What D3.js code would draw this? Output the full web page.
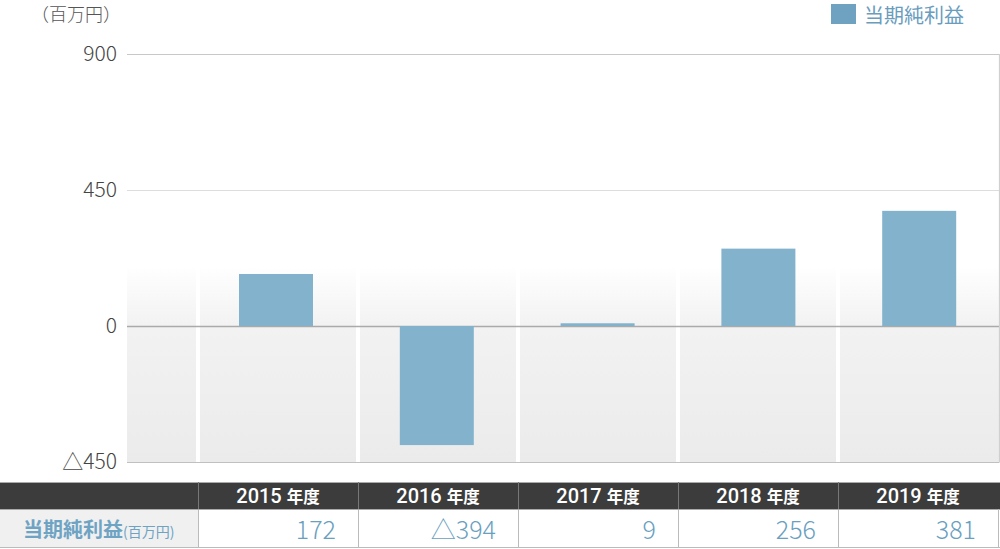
<!DOCTYPE html>
<html><head><meta charset="utf-8">
<script src="https://cdn.jsdelivr.net/npm/d3@7"></script>
<style>
html,body{margin:0;padding:0;background:#fff;}
svg{display:block;}
text{font-family:"Noto Sans CJK JP","Noto Sans",sans-serif;}
</style></head>
<body>
<svg id="c" width="1000" height="549"></svg>
<script>
const categories = ["2015", "2016", "2017", "2018", "2019"];
const values = [172, -394, 9, 256, 381];
const displayValues = ["172", "△394", "9", "256", "381"];
const yTicks = [900, 450, 0, -450];
const yTickLabels = ["900", "450", "0", "△450"];
const seriesName = "当期純利益";
const unitLabel = "（百万円）";
const yearSuffix = "年度";

const svg = d3.select("#c");
const plotLeft = 127, plotRight = 999;
const x = d3.scaleBand().domain(categories).range([198, 998]).padding(0);
const xBar = d3.scaleBand().domain(categories).range([198, 1002]).padding(0);
const y = d3.scaleLinear().domain([-450, 900]).range([462, 54]);
const barColor = "#82b2cc";
const barW = 74;

const defs = svg.append("defs");
const g1 = defs.append("linearGradient").attr("id","bgGrad").attr("x1",0).attr("x2",0).attr("y1",0).attr("y2",1);
g1.append("stop").attr("offset","0%").attr("stop-color","#ffffff");
g1.append("stop").attr("offset","31%").attr("stop-color","#f2f2f2");
g1.append("stop").attr("offset","100%").attr("stop-color","#ebebeb");

svg.append("rect").attr("x", plotLeft).attr("y", y(200)).attr("width", plotRight-plotLeft)
  .attr("height", y(-450)-y(200)).attr("fill","url(#bgGrad)");
svg.selectAll("rect.sep").data(categories).enter().append("rect")
  .attr("class","sep").attr("x", d => x(d)-2).attr("y", y(200)).attr("width",4)
  .attr("height", y(-450)-y(200)+2).attr("fill","#fff");

const gridColors = {"900":"#c8c8c8","450":"#dddddd","0":"#aaaaaa","-450":"#c0c0c0"};
svg.selectAll("line.grid").data(yTicks).enter().append("line")
  .attr("x1", plotLeft).attr("x2", plotRight+0.5)
  .attr("y1", d => Math.round(y(d))+0.5).attr("y2", d => Math.round(y(d))+0.5)
  .attr("stroke", d => gridColors[String(d)]).attr("stroke-width", d => d===0 ? 1.5 : 1.2);
svg.append("line").attr("x1", plotRight+0.5).attr("x2", plotRight+0.5)
  .attr("y1", y(900)).attr("y2", y(-450)).attr("stroke","#d0d0d0").attr("stroke-width",1.2);

svg.selectAll("text.ylab").data(yTicks).enter().append("text")
  .attr("x", 117).attr("y", d => y(d)+7).attr("text-anchor","end")
  .attr("font-size", 21).attr("fill","#444").attr("font-weight",300)
  .attr("font-family","Roboto, 'Noto Sans CJK JP', sans-serif")
  .text((d,i) => yTickLabels[i]);
svg.append("text").attr("x", 31).attr("y", 21).attr("font-size",18).attr("fill","#555")
  .attr("font-weight",300).text(unitLabel);

svg.selectAll("rect.bar").data(values).enter().append("rect")
  .attr("class","bar")
  .attr("x", (d,i) => xBar(categories[i]) + (xBar.bandwidth()-barW)/2 - 2.4)
  .attr("width", barW)
  .attr("y", d => y(Math.max(0,d)))
  .attr("height", d => Math.abs(y(d)-y(0)))
  .attr("fill", barColor);

svg.append("rect").attr("x",831).attr("y",4).attr("width",25).attr("height",20).attr("fill","#6fa2c1");
svg.append("text").attr("x",864).attr("y",23).attr("font-size",20).attr("fill","#6a9dbd")
  .attr("font-weight",400).text(seriesName);

const tTop = 482, hH = 27, rH = 38;
svg.append("rect").attr("x",0).attr("y",tTop).attr("width",1000).attr("height",hH).attr("fill","#3c3c3c");
svg.append("rect").attr("x",0).attr("y",tTop+hH).attr("width",198).attr("height",rH).attr("fill","#f0f0f0");
svg.append("line").attr("x1",0).attr("x2",1000).attr("y1",tTop+0.5).attr("y2",tTop+0.5).attr("stroke","#aaa");
svg.append("line").attr("x1",0).attr("x2",1000).attr("y1",tTop+hH+rH+0.5).attr("y2",tTop+hH+rH+0.5).attr("stroke","#bbb").attr("stroke-width",1.2);
svg.append("line").attr("x1",0).attr("x2",1000).attr("y1",tTop+hH+0.5).attr("y2",tTop+hH+0.5).attr("stroke","#aaa");
svg.selectAll("line.vdiv").data(categories).enter().append("line")
  .attr("x1", d => x(d)+0.5).attr("x2", d => x(d)+0.5)
  .attr("y1", tTop).attr("y2", tTop+hH)
  .attr("stroke", "#777").attr("stroke-width",1);
svg.selectAll("line.vdiv2").data(categories).enter().append("line")
  .attr("x1", d => x(d)+0.5).attr("x2", d => x(d)+0.5)
  .attr("y1", tTop+hH+1).attr("y2", tTop+hH+rH)
  .attr("stroke", "#bbb").attr("stroke-width",1);
svg.append("line").attr("x1",998.5).attr("x2",998.5).attr("y1",tTop+hH).attr("y2",tTop+hH+rH).attr("stroke","#bbb");

const hdr = svg.selectAll("text.hdr").data(categories).enter().append("text")
  .attr("x", d => x(d)+x.bandwidth()/2).attr("y", tTop+21).attr("text-anchor","middle")
  .attr("fill","#fff").attr("font-weight",700);
hdr.append("tspan").attr("font-size",20).attr("font-family","Roboto, 'Noto Sans', sans-serif").attr("font-weight",500).text(d => d);
hdr.append("tspan").attr("font-size",16.5).attr("dx",5).text(yearSuffix);

const rl = svg.append("text").attr("x",23).attr("y",tTop+hH+28).attr("fill","#6ea3c3");
rl.append("tspan").attr("font-size",20).attr("font-weight",700).text(seriesName);
rl.append("tspan").attr("font-size",14).attr("font-weight",400).text("(百万円)");

svg.selectAll("text.val").data(displayValues).enter().append("text")
  .attr("x", (d,i) => x(categories[i]) + x.bandwidth() - 22)
  .attr("y", tTop+hH+30).attr("text-anchor","end")
  .attr("font-size",25).attr("font-weight",300).attr("fill","#6a9fbf")
  .attr("font-family","Roboto, 'Noto Sans CJK JP', sans-serif")
  .text(d => d);
</script>
</body></html>
